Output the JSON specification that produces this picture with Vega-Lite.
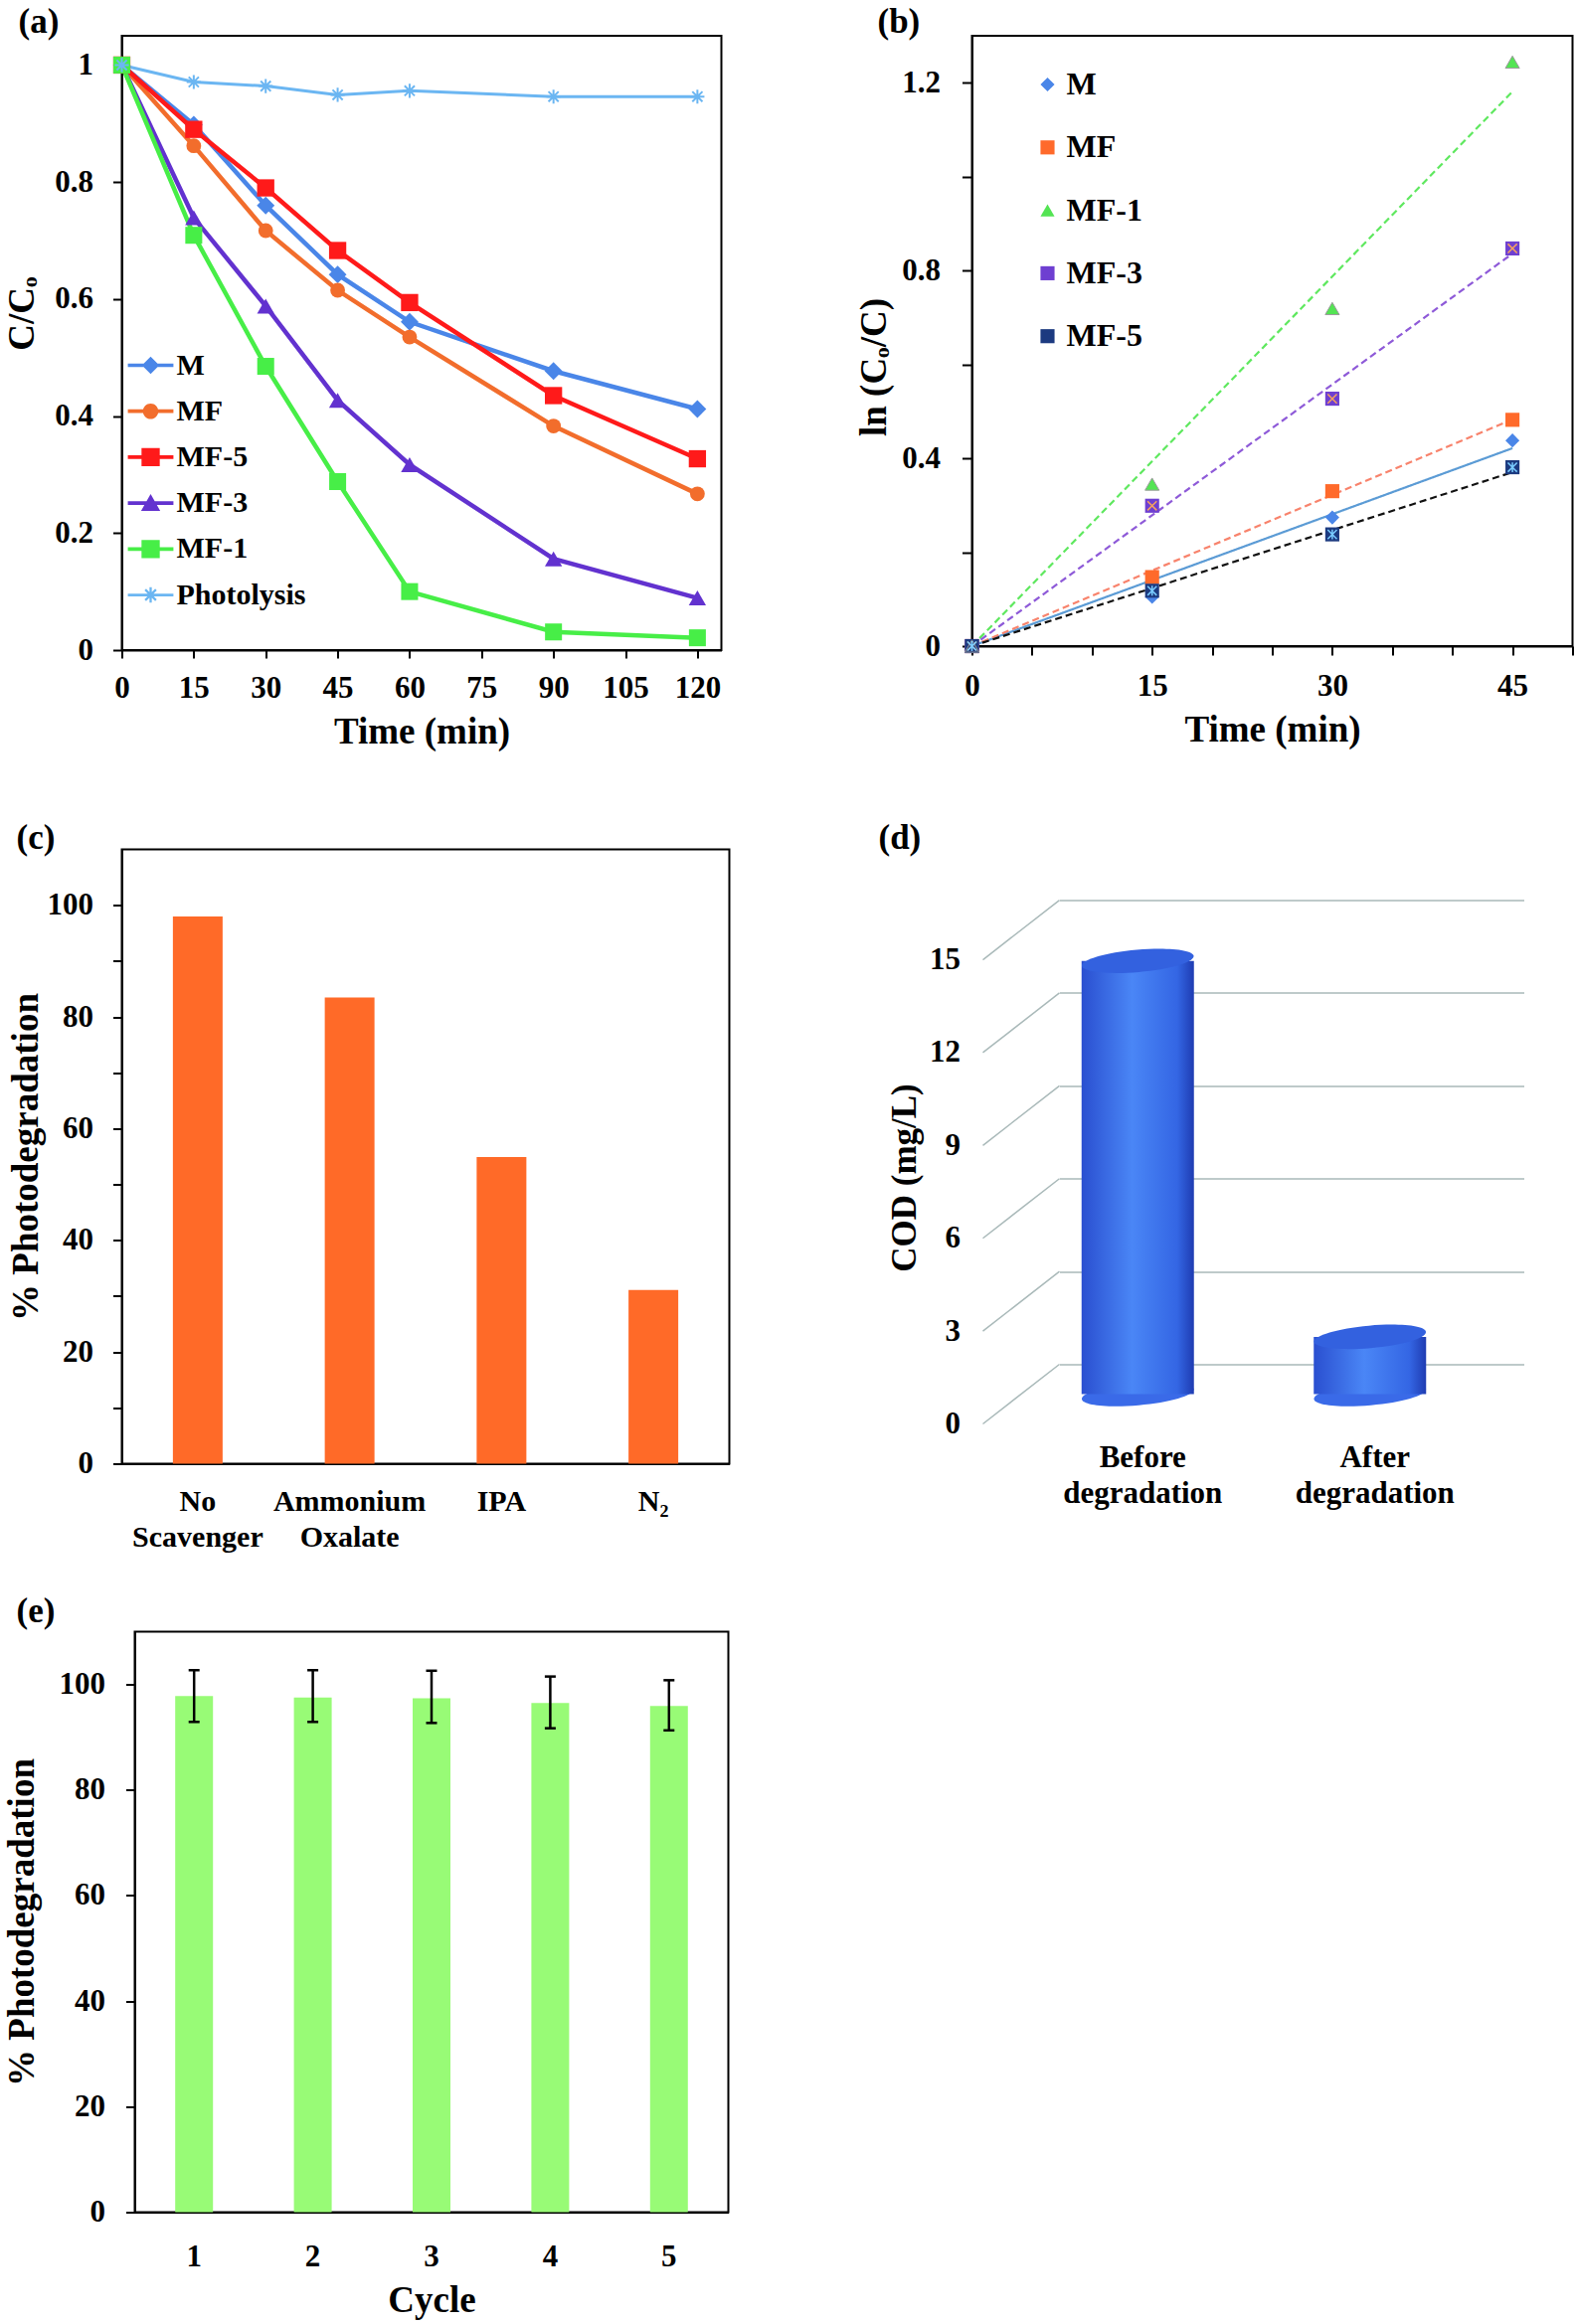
{
  "$schema": "https://vega.github.io/schema/vega-lite/v6.json",
  "padding": {"left": 2.5, "top": 4, "right": 0, "bottom": 0},
  "background": "white",
  "datasets": {
    "conc": [
      {"s": "M", "t": 0, "c": 1}, {"s": "M", "t": 15, "c": 0.898}, {"s": "M", "t": 30, "c": 0.760}, {"s": "M", "t": 45, "c": 0.642}, {"s": "M", "t": 60, "c": 0.561}, {"s": "M", "t": 90, "c": 0.477}, {"s": "M", "t": 120, "c": 0.412},
      {"s": "MF", "t": 0, "c": 1}, {"s": "MF", "t": 15, "c": 0.862}, {"s": "MF", "t": 30, "c": 0.717}, {"s": "MF", "t": 45, "c": 0.615}, {"s": "MF", "t": 60, "c": 0.535}, {"s": "MF", "t": 90, "c": 0.383}, {"s": "MF", "t": 120, "c": 0.267},
      {"s": "MF-5", "t": 0, "c": 1}, {"s": "MF-5", "t": 15, "c": 0.890}, {"s": "MF-5", "t": 30, "c": 0.790}, {"s": "MF-5", "t": 45, "c": 0.683}, {"s": "MF-5", "t": 60, "c": 0.594}, {"s": "MF-5", "t": 90, "c": 0.435}, {"s": "MF-5", "t": 120, "c": 0.327},
      {"s": "MF-3", "t": 0, "c": 1}, {"s": "MF-3", "t": 15, "c": 0.739}, {"s": "MF-3", "t": 30, "c": 0.588}, {"s": "MF-3", "t": 45, "c": 0.427}, {"s": "MF-3", "t": 60, "c": 0.317}, {"s": "MF-3", "t": 90, "c": 0.156}, {"s": "MF-3", "t": 120, "c": 0.089},
      {"s": "MF-1", "t": 0, "c": 1}, {"s": "MF-1", "t": 15, "c": 0.709}, {"s": "MF-1", "t": 30, "c": 0.485}, {"s": "MF-1", "t": 45, "c": 0.288}, {"s": "MF-1", "t": 60, "c": 0.100}, {"s": "MF-1", "t": 90, "c": 0.031}, {"s": "MF-1", "t": 120, "c": 0.021},
      {"s": "Photolysis", "t": 0, "c": 1}, {"s": "Photolysis", "t": 15, "c": 0.971}, {"s": "Photolysis", "t": 30, "c": 0.964}, {"s": "Photolysis", "t": 45, "c": 0.949}, {"s": "Photolysis", "t": 60, "c": 0.956}, {"s": "Photolysis", "t": 90, "c": 0.946}, {"s": "Photolysis", "t": 120, "c": 0.946}
    ],
    "lnk": [
      {"s": "M", "t": 0, "k": 0}, {"s": "M", "t": 15, "k": 0.105}, {"s": "M", "t": 30, "k": 0.274}, {"s": "M", "t": 45, "k": 0.438},
      {"s": "MF", "t": 0, "k": 0}, {"s": "MF", "t": 15, "k": 0.147}, {"s": "MF", "t": 30, "k": 0.330}, {"s": "MF", "t": 45, "k": 0.482},
      {"s": "MF-1", "t": 0, "k": 0}, {"s": "MF-1", "t": 15, "k": 0.345}, {"s": "MF-1", "t": 30, "k": 0.719}, {"s": "MF-1", "t": 45, "k": 1.244},
      {"s": "MF-3", "t": 0, "k": 0}, {"s": "MF-3", "t": 15, "k": 0.299}, {"s": "MF-3", "t": 30, "k": 0.527}, {"s": "MF-3", "t": 45, "k": 0.847},
      {"s": "MF-5", "t": 0, "k": 0}, {"s": "MF-5", "t": 15, "k": 0.118}, {"s": "MF-5", "t": 30, "k": 0.238}, {"s": "MF-5", "t": 45, "k": 0.381}
    ],
    "fit": [
      {"s": "M", "t": 0, "k": 0}, {"s": "M", "t": 45, "k": 0.4215},
      {"s": "MF", "t": 0, "k": 0}, {"s": "MF", "t": 45, "k": 0.483},
      {"s": "MF-1", "t": 0, "k": 0}, {"s": "MF-1", "t": 45, "k": 1.181},
      {"s": "MF-3", "t": 0, "k": 0}, {"s": "MF-3", "t": 45, "k": 0.836},
      {"s": "MF-5", "t": 0, "k": 0}, {"s": "MF-5", "t": 45, "k": 0.3705}
    ],
    "scav": [
      {"g": "No Scavenger", "p": 98.0},
      {"g": "Ammonium Oxalate", "p": 83.5},
      {"g": "IPA", "p": 54.9},
      {"g": "N₂", "p": 31.1}
    ],
    "cod": [
      {"stage": "Before degradation", "cod": 14.0},
      {"stage": "After degradation", "cod": 1.85}
    ],
    "dgrid": [{"v": 0}, {"v": 3}, {"v": 6}, {"v": 9}, {"v": 12}, {"v": 15}],
    "cycle": [
      {"n": 1, "p": 97.8, "lo": 92.9, "hi": 102.7},
      {"n": 2, "p": 97.5, "lo": 92.9, "hi": 102.7},
      {"n": 3, "p": 97.4, "lo": 92.7, "hi": 102.6},
      {"n": 4, "p": 96.5, "lo": 91.7, "hi": 101.5},
      {"n": 5, "p": 95.9, "lo": 91.3, "hi": 100.8}
    ]
  },
  "concat": [
    {
      "hconcat": [
        {
          "width": 603,
          "height": 618,
          "title": {"text": "(a)", "dx": -104, "offset": -4},
          "data": {"name": "conc"},
          "encoding": {
            "x": {"field": "t", "type": "quantitative", "scale": {"domain": [0, 125], "nice": false},
                  "axis": {"values": [0, 15, 30, 45, 60, 75, 90, 105, 120], "title": "Time (min)", "labelPadding": 15, "titlePadding": 11}},
            "y": {"field": "c", "type": "quantitative", "scale": {"domain": [0, 1.05], "nice": false},
                  "axis": {"values": [0, 0.2, 0.4, 0.6, 0.8, 1], "format": "~g", "title": "C/Cₒ", "labelPadding": 20, "tickSize": 9,
                           "titleX": -100, "titleY": 279, "titleAngle": 270, "titleAlign": "center", "titleBaseline": "middle"}}
          },
          "layer": [
            {
              "transform": [{"filter": "false"}],
              "mark": {"type": "point", "filled": true, "opacity": 1, "strokeWidth": 0},
              "encoding": {
                "color": {"field": "s", "type": "nominal",
                          "scale": {"domain": ["M", "MF", "MF-5", "MF-3", "MF-1", "Photolysis"], "range": ["#4a86e8", "#f26d2c", "#ff1a1a", "#6232cf", "#47ee47", "#6bb6f2"]},
                          "legend": {"orient": "none", "legendX": 6, "legendY": 308.5, "title": null, "labelFontSize": 30, "symbolSize": 2100, "rowPadding": 8.2, "labelOffset": 3, "padding": 0, "symbolStrokeWidth": 0}},
                "shape": {"field": "s", "type": "nominal",
                          "scale": {"domain": ["M", "MF", "MF-5", "MF-3", "MF-1", "Photolysis"],
                                    "range": [
                                      "M-1,-0.08H1V0.08H-1Z M0,-0.38L0.38,0L0,0.38L-0.38,0Z",
                                      "M-1,-0.08H1V0.08H-1Z M-0.34,0A0.34,0.34,0,1,1,0.34,0A0.34,0.34,0,1,1,-0.34,0Z",
                                      "M-1,-0.08H1V0.08H-1Z M-0.4,-0.4H0.4V0.4H-0.4Z",
                                      "M-1,-0.08H1V0.08H-1Z M0,-0.4L0.42,0.34H-0.42Z",
                                      "M-1,-0.08H1V0.08H-1Z M-0.4,-0.4H0.4V0.4H-0.4Z",
                                      "M-1,-0.06H1V0.06H-1Z M-0.05,-0.34H0.05V0.34H-0.05Z M-0.27,-0.2L-0.2,-0.27L0.27,0.2L0.2,0.27Z M0.2,-0.27L0.27,-0.2L-0.2,0.27L-0.27,0.2Z"
                                    ]},
                          "legend": {"orient": "none", "legendX": 6, "legendY": 308.5, "title": null, "labelFontSize": 30, "symbolSize": 2100, "rowPadding": 8.2, "labelOffset": 3, "padding": 0, "symbolStrokeWidth": 0}}
              }
            },
            {
              "transform": [{"filter": "datum.s !== 'Photolysis'"}],
              "mark": {"type": "line", "strokeWidth": 4.5},
              "encoding": {"color": {"field": "s", "type": "nominal", "legend": null}}
            },
            {
              "transform": [{"filter": "datum.s === 'Photolysis'"}],
              "mark": {"type": "line", "strokeWidth": 3},
              "encoding": {"color": {"field": "s", "type": "nominal", "legend": null}}
            },
            {
              "transform": [{"filter": "datum.s === 'M'"}],
              "mark": {"type": "point", "shape": "diamond", "filled": true, "opacity": 1, "size": 320, "strokeWidth": 0},
              "encoding": {"color": {"field": "s", "type": "nominal", "legend": null}}
            },
            {
              "transform": [{"filter": "datum.s === 'MF'"}],
              "mark": {"type": "point", "shape": "circle", "filled": true, "opacity": 1, "size": 220, "strokeWidth": 0},
              "encoding": {"color": {"field": "s", "type": "nominal", "legend": null}}
            },
            {
              "transform": [{"filter": "datum.s === 'MF-5'"}],
              "mark": {"type": "point", "shape": "square", "filled": true, "opacity": 1, "size": 300, "strokeWidth": 0},
              "encoding": {"color": {"field": "s", "type": "nominal", "legend": null}}
            },
            {
              "transform": [{"filter": "datum.s === 'MF-3'"}],
              "mark": {"type": "point", "shape": "triangle-up", "filled": true, "opacity": 1, "size": 300, "strokeWidth": 0},
              "encoding": {"color": {"field": "s", "type": "nominal", "legend": null}}
            },
            {
              "transform": [{"filter": "datum.s === 'MF-1'"}],
              "mark": {"type": "point", "shape": "square", "filled": true, "opacity": 1, "size": 290, "strokeWidth": 0},
              "encoding": {"color": {"field": "s", "type": "nominal", "legend": null}}
            },
            {
              "transform": [{"filter": "datum.s === 'Photolysis'"}],
              "mark": {"type": "point", "shape": "M-1,0H1M0,-1V1M-0.72,-0.72L0.72,0.72M0.72,-0.72L-0.72,0.72", "filled": false, "opacity": 1, "size": 200, "strokeWidth": 2},
              "encoding": {"color": {"field": "s", "type": "nominal", "legend": null}}
            }
          ]
        },
        {
          "width": 604,
          "height": 614,
          "title": {"text": "(b)", "dx": -95, "offset": -4},
          "encoding": {
            "x": {"field": "t", "type": "quantitative", "scale": {"domain": [0, 50], "nice": false},
                  "axis": {"values": [0, 5, 10, 15, 20, 25, 30, 35, 40, 45, 50], "labelExpr": "datum.value % 15 === 0 ? datum.label : ''",
                           "title": "Time (min)", "labelPadding": 16, "titlePadding": 11, "tickSize": 9}},
            "y": {"field": "k", "type": "quantitative", "scale": {"domain": [0, 1.3], "nice": false},
                  "axis": {"values": [0, 0.2, 0.4, 0.6, 0.8, 1, 1.2], "format": "~g",
                           "labelExpr": "round(datum.value * 10) % 4 === 0 ? datum.label : ''",
                           "title": "ln (Cₒ/C)", "labelPadding": 22, "tickSize": 10,
                           "titleX": -98, "titleY": 333, "titleAngle": 270, "titleAlign": "center", "titleBaseline": "middle"}}
          },
          "layer": [
            {
              "data": {"name": "lnk"},
              "transform": [{"filter": "false"}],
              "mark": {"type": "point", "filled": true, "opacity": 1, "strokeWidth": 0},
              "encoding": {
                "color": {"field": "s", "type": "nominal",
                          "scale": {"domain": ["M", "MF", "MF-1", "MF-3", "MF-5"], "range": ["#4a86e8", "#ff6a2b", "#53e453", "#6e3fd1", "#1c3a80"]},
                          "legend": {"orient": "none", "legendX": 60, "legendY": 33, "title": null, "labelFontSize": 32, "symbolSize": 200, "rowPadding": 31.3, "labelOffset": 3, "padding": 0, "symbolStrokeWidth": 0}},
                "shape": {"field": "s", "type": "nominal",
                          "scale": {"domain": ["M", "MF", "MF-1", "MF-3", "MF-5"], "range": ["diamond", "square", "triangle-up", "square", "square"]},
                          "legend": {"orient": "none", "legendX": 60, "legendY": 33, "title": null, "labelFontSize": 32, "symbolSize": 200, "rowPadding": 31.3, "labelOffset": 3, "padding": 0, "symbolStrokeWidth": 0}}
              }
            },
            {
              "data": {"name": "fit"},
              "mark": {"type": "line", "strokeWidth": 2.2},
              "encoding": {
                "stroke": {"field": "s", "type": "nominal",
                           "scale": {"domain": ["M", "MF", "MF-1", "MF-3", "MF-5"], "range": ["#5b9bd5", "#f8836c", "#5fe85f", "#8e5ad8", "#111111"]},
                           "legend": null},
                "strokeDash": {"field": "s", "type": "nominal",
                               "scale": {"domain": ["M", "MF", "MF-1", "MF-3", "MF-5"], "range": [[1, 0], [7, 4], [7, 4], [7, 4], [7, 4]]},
                               "legend": null}
              }
            },
            {
              "data": {"name": "lnk"},
              "mark": {"type": "point", "filled": true, "opacity": 1, "size": 200, "strokeWidth": 0},
              "encoding": {
                "color": {"field": "s", "type": "nominal", "legend": null},
                "shape": {"field": "s", "type": "nominal", "legend": null}
              }
            },
            {
              "data": {"name": "lnk"},
              "transform": [{"filter": "datum.s === 'MF-1'"}],
              "mark": {"type": "point", "shape": "triangle-up", "filled": false, "opacity": 1, "size": 200, "stroke": "#9a9a9a", "strokeWidth": 1}
            },
            {
              "data": {"name": "lnk"},
              "transform": [{"filter": "datum.s === 'MF-3'"}],
              "mark": {"type": "point", "shape": "M-0.75,-0.75L0.75,0.75M0.75,-0.75L-0.75,0.75", "filled": false, "opacity": 1, "size": 150, "stroke": "#f7a35c", "strokeWidth": 1.5}
            },
            {
              "data": {"name": "lnk"},
              "transform": [{"filter": "datum.s === 'MF-5'"}],
              "mark": {"type": "point", "shape": "M-0.75,-0.75L0.75,0.75M0.75,-0.75L-0.75,0.75M0,-0.8V0.8", "filled": false, "opacity": 1, "size": 150, "stroke": "#79cbff", "strokeWidth": 1.5}
            }
          ]
        }
      ],
      "spacing": 133,
      "resolve": {"scale": {"color": "independent", "shape": "independent", "fill": "independent", "stroke": "independent", "strokeDash": "independent"}}
    },
    {
      "concat": [
        {
          "hconcat": [
            {
              "width": 611,
              "height": 618,
              "title": {"text": "(c)", "dx": -106, "offset": -6},
              "data": {"name": "scav"},
              "mark": {"type": "bar", "color": "#ff6a28", "size": 50},
              "encoding": {
                "x": {"field": "g", "type": "nominal", "sort": null, "scale": {"paddingInner": 0, "paddingOuter": 0},
                      "axis": {"title": null, "ticks": false, "labelAngle": 0, "labelPadding": 23, "labelExpr": "split(datum.label, ' ')", "labelLineHeight": 36, "labelFontSize": 30}},
                "y": {"field": "p", "type": "quantitative", "scale": {"domain": [0, 110], "nice": false},
                      "axis": {"values": [0, 10, 20, 30, 40, 50, 60, 70, 80, 90, 100], "labelExpr": "datum.value % 20 === 0 ? datum.label : ''",
                               "title": "% Photodegradation", "labelPadding": 20, "tickSize": 9,
                               "titleX": -96, "titleY": 309, "titleAngle": 270, "titleAlign": "center", "titleBaseline": "middle"}}
              }
            },
            {
              "width": 467,
              "height": 518,
              "view": {"stroke": null},
              "title": {"text": "(d)", "dx": -182, "offset": -6},
              "encoding": {
                "x": {"field": "stage", "type": "nominal", "sort": null, "scale": {"paddingInner": 0, "paddingOuter": 0},
                      "axis": {"title": null, "domain": false, "ticks": false, "labelAngle": 0, "labelPadding": 79, "labelOffset": -33, "labelExpr": "split(datum.label, ' ')", "labelLineHeight": 36, "labelFontSize": 31}}
              },
              "layer": [
                {
                  "data": {"name": "dgrid"},
                  "mark": {"type": "rule", "color": "#a9b9b9", "strokeWidth": 1.5, "y2Offset": 60},
                  "encoding": {
                    "x": {"value": 0},
                    "x2": {"value": -77},
                    "y": {"field": "v", "type": "quantitative", "scale": {"domain": [0, 16.64], "nice": false},
                          "axis": {"values": [0, 3, 6, 9, 12, 15], "domain": false, "ticks": false, "grid": true, "gridColor": "#a9b9b9", "gridWidth": 1.5,
                                   "labelPadding": 100, "labelOffset": 60, "title": "COD  (mg/L)", "titleFontSize": 35,
                                   "titleX": -156, "titleY": 330, "titleAngle": 270, "titleAlign": "center", "titleBaseline": "middle"}},
                    "y2": {"field": "v"}
                  }
                },
                {
                  "data": {"name": "cod"},
                  "mark": {"type": "point", "shape": "M-1,0A1,0.2,0,1,1,1,0A1,0.2,0,1,1,-1,0Z", "size": 12769, "filled": true, "opacity": 1, "color": "#3a6ae8", "strokeWidth": 0, "xOffset": -38, "yOffset": 30, "angle": -5},
                  "encoding": {
                    "y": {"datum": 0, "type": "quantitative",
                          "axis": {"values": [0, 3, 6, 9, 12, 15], "domain": false, "ticks": false, "grid": true, "gridColor": "#a9b9b9", "gridWidth": 1.5,
                                   "labelPadding": 100, "labelOffset": 60, "title": "COD  (mg/L)", "titleFontSize": 35,
                                   "titleX": -156, "titleY": 330, "titleAngle": 270, "titleAlign": "center", "titleBaseline": "middle"}}
                  }
                },
                {
                  "data": {"name": "cod"},
                  "mark": {"type": "bar", "size": 113, "xOffset": -38, "yOffset": 30, "y2Offset": 30,
                           "color": {"gradient": "linear", "x1": 0, "x2": 1, "y1": 0, "y2": 0,
                                     "stops": [{"offset": 0, "color": "#2a4fd0"}, {"offset": 0.45, "color": "#4a86f6"}, {"offset": 0.85, "color": "#3466e4"}, {"offset": 1, "color": "#1f3cb2"}]}},
                  "encoding": {
                    "y": {"field": "cod", "type": "quantitative",
                          "axis": {"values": [0, 3, 6, 9, 12, 15], "domain": false, "ticks": false, "grid": true, "gridColor": "#a9b9b9", "gridWidth": 1.5,
                                   "labelPadding": 100, "labelOffset": 60, "title": "COD  (mg/L)", "titleFontSize": 35,
                                   "titleX": -156, "titleY": 330, "titleAngle": 270, "titleAlign": "center", "titleBaseline": "middle"}}
                  }
                },
                {
                  "data": {"name": "cod"},
                  "mark": {"type": "point", "shape": "M-1,0A1,0.2,0,1,1,1,0A1,0.2,0,1,1,-1,0Z", "size": 12769, "filled": true, "opacity": 1, "color": "#3361df", "strokeWidth": 0, "xOffset": -38, "yOffset": 30, "angle": -5},
                  "encoding": {
                    "y": {"field": "cod", "type": "quantitative",
                          "axis": {"values": [0, 3, 6, 9, 12, 15], "domain": false, "ticks": false, "grid": true, "gridColor": "#a9b9b9", "gridWidth": 1.5,
                                   "labelPadding": 100, "labelOffset": 60, "title": "COD  (mg/L)", "titleFontSize": 35,
                                   "titleX": -156, "titleY": 330, "titleAngle": 270, "titleAlign": "center", "titleBaseline": "middle"}}
                  }
                }
              ]
            }
          ],
          "spacing": 149
        },
        {
          "hconcat": [
            {
              "width": 1,
              "height": 1,
              "view": {"stroke": null},
              "data": {"values": [{}]},
              "mark": {"type": "point", "opacity": 0},
              "encoding": {}
            },
            {
              "width": 597,
              "height": 584,
              "title": {"text": "(e)", "dx": -119, "offset": 3},
              "data": {"name": "cycle"},
              "encoding": {
                "x": {"field": "n", "type": "ordinal", "scale": {"paddingInner": 0, "paddingOuter": 0},
                      "axis": {"title": "Cycle", "ticks": false, "labelAngle": 0, "labelPadding": 30, "titlePadding": 11}}
              },
              "layer": [
                {
                  "mark": {"type": "bar", "color": "#98fb76", "size": 38},
                  "encoding": {
                    "y": {"field": "p", "type": "quantitative", "scale": {"domain": [0, 110], "nice": false},
                          "axis": {"values": [0, 20, 40, 60, 80, 100], "title": "% Photodegradation", "labelPadding": 21, "tickSize": 9,
                                   "titleX": -113, "titleY": 292, "titleAngle": 270, "titleAlign": "center", "titleBaseline": "middle"}}
                  }
                },
                {
                  "mark": {"type": "rule", "color": "black", "strokeWidth": 2.5},
                  "encoding": {
                    "y": {"field": "lo", "type": "quantitative",
                          "axis": {"values": [0, 20, 40, 60, 80, 100], "title": "% Photodegradation", "labelPadding": 21, "tickSize": 9,
                                   "titleX": -113, "titleY": 292, "titleAngle": 270, "titleAlign": "center", "titleBaseline": "middle"}},
                    "y2": {"field": "hi"}
                  }
                },
                {
                  "mark": {"type": "tick", "color": "black", "thickness": 2.5, "size": 11, "opacity": 1},
                  "encoding": {
                    "y": {"field": "lo", "type": "quantitative",
                          "axis": {"values": [0, 20, 40, 60, 80, 100], "title": "% Photodegradation", "labelPadding": 21, "tickSize": 9,
                                   "titleX": -113, "titleY": 292, "titleAngle": 270, "titleAlign": "center", "titleBaseline": "middle"}}
                  }
                },
                {
                  "mark": {"type": "tick", "color": "black", "thickness": 2.5, "size": 11, "opacity": 1},
                  "encoding": {
                    "y": {"field": "hi", "type": "quantitative",
                          "axis": {"values": [0, 20, 40, 60, 80, 100], "title": "% Photodegradation", "labelPadding": 21, "tickSize": 9,
                                   "titleX": -113, "titleY": 292, "titleAngle": 270, "titleAlign": "center", "titleBaseline": "middle"}}
                  }
                }
              ]
            }
          ],
          "spacing": 12,
          "bounds": "flush"
        }
      ],
      "columns": 1,
      "align": "none",
      "spacing": 40
    }
  ],
  "columns": 1,
  "align": "none",
  "spacing": 69.5,
  "resolve": {"scale": {"color": "independent", "shape": "independent", "fill": "independent", "stroke": "independent", "strokeDash": "independent"}},
  "config": {
    "font": "Liberation Serif",
    "view": {"stroke": "black", "strokeWidth": 2},
    "axis": {
      "domainColor": "black", "domainWidth": 2, "tickColor": "black", "tickWidth": 2, "tickSize": 8,
      "labelFont": "Liberation Serif", "labelFontSize": 31, "labelFontWeight": "bold", "labelColor": "black",
      "titleFont": "Liberation Serif", "titleFontSize": 37, "titleFontWeight": "bold", "titleColor": "black",
      "grid": false, "labelFlush": false, "labelOverlap": false
    },
    "legend": {"labelFont": "Liberation Serif", "labelFontWeight": "bold", "labelColor": "black"},
    "title": {"font": "Liberation Serif", "fontSize": 35, "fontWeight": "bold", "color": "black", "anchor": "start", "frame": "group", "baseline": "alphabetic"}
  }
}
